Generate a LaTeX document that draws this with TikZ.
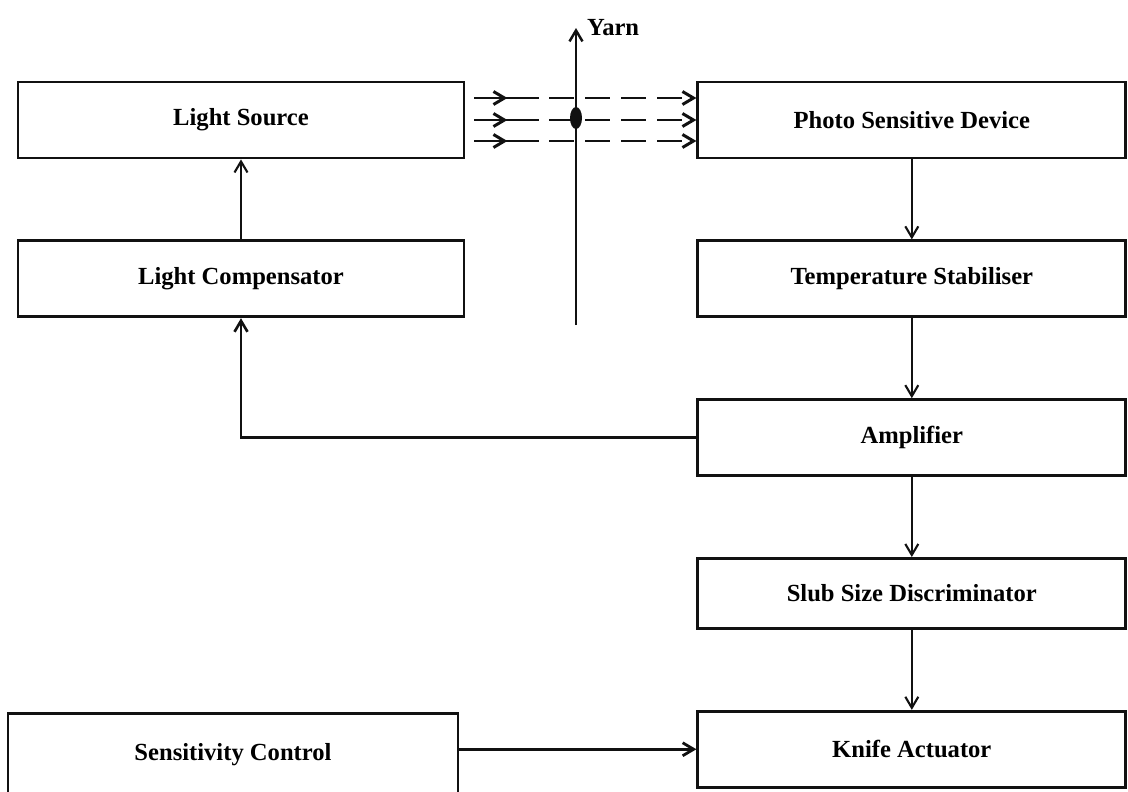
\documentclass[tikz,border=0pt]{standalone}
\usepackage{fontspec}
\setmainfont{Liberation Serif}
\usepackage{tikz}
\usetikzlibrary{positioning,arrows.meta,shapes.geometric,calc}
\definecolor{blk}{HTML}{111111}
\tikzset{
  >={Straight Barb[length=2.2mm,width=2.6mm]},
  block/.style={draw=blk, line width=1.6pt, minimum height=15.2mm,
                minimum width=85.6mm, align=center, font=\fontsize{14}{16}\selectfont\bfseries},
  wblock/.style={block, minimum width=89.2mm},
  sig/.style={font=\fontsize{14}{16}\selectfont\bfseries},
  l/.style={->, line width=1.2pt, draw=blk},
  ray/.style={l, line width=1.7pt, dash pattern=on 5mm off 2.2mm},
}

\begin{document}
\begin{tikzpicture}[node distance=16mm and 46.2mm]
  \useasboundingbox (0,0) rectangle (22.56,-15.84);
  % left column
  \node[wblock] (ls) at (4.82,-2.4) {Light Source};
  \node[wblock,below=of ls] (lc) {Light Compensator};
  % right column
  \node[block,right=of ls] (psd) {Photo Sensitive Device};
  \node[block,below=of psd] (ts) {Temperature Stabiliser};
  \node[block,below=of ts] (amp) {Amplifier};
  \node[block,below=of amp,minimum height=14mm] (ssd) {Slub Size Discriminator};
  \node[block,below=of ssd] (ka) {Knife Actuator};
  \node[wblock,minimum width=90mm,minimum height=16.4mm,left=47.4mm of ka,yshift=-1mm] (sc) {Sensitivity Control};
  % yarn
  \coordinate (ytop) at (11.52,-0.56);
  \coordinate (ybot) at (11.52,-6.5);
  \draw[l,line width=1.4pt] (ybot) -- (ytop);
  \node[sig,right=1mm of ytop] (yarn) {Yarn};
  \node[ellipse,fill=blk,minimum width=2.4mm,minimum height=4.4mm,inner sep=0pt] (spot) at (11.52,-2.36) {};
  % light rays
  \foreach \dy [count=\i] in {0.44,0,-0.42}{
    \coordinate (r\i) at ([xshift=1.8mm,yshift=\dy cm]ls.east);
    \draw[l,line width=1.7pt] (r\i) -- ++(0.66,0);
    \draw[line width=1.7pt,draw=blk] ($(r\i)+(0.6,0)$) -- ++(0.7,0);
    \draw[ray] ($(r\i)+(1.5,0)$) -- (psd.west |- r\i);
  }
  \draw[l](lc)--(ls);
  \draw[l](psd)--(ts); \draw[l](ts)--(amp); \draw[l](amp)--(ssd); \draw[l](ssd)--(ka);
  \draw[l,line width=1.5pt](amp.west) -| (lc.south);
  \draw[l,line width=1.6pt](sc.east |- ka.west)--(ka.west);
\end{tikzpicture}
\end{document}
